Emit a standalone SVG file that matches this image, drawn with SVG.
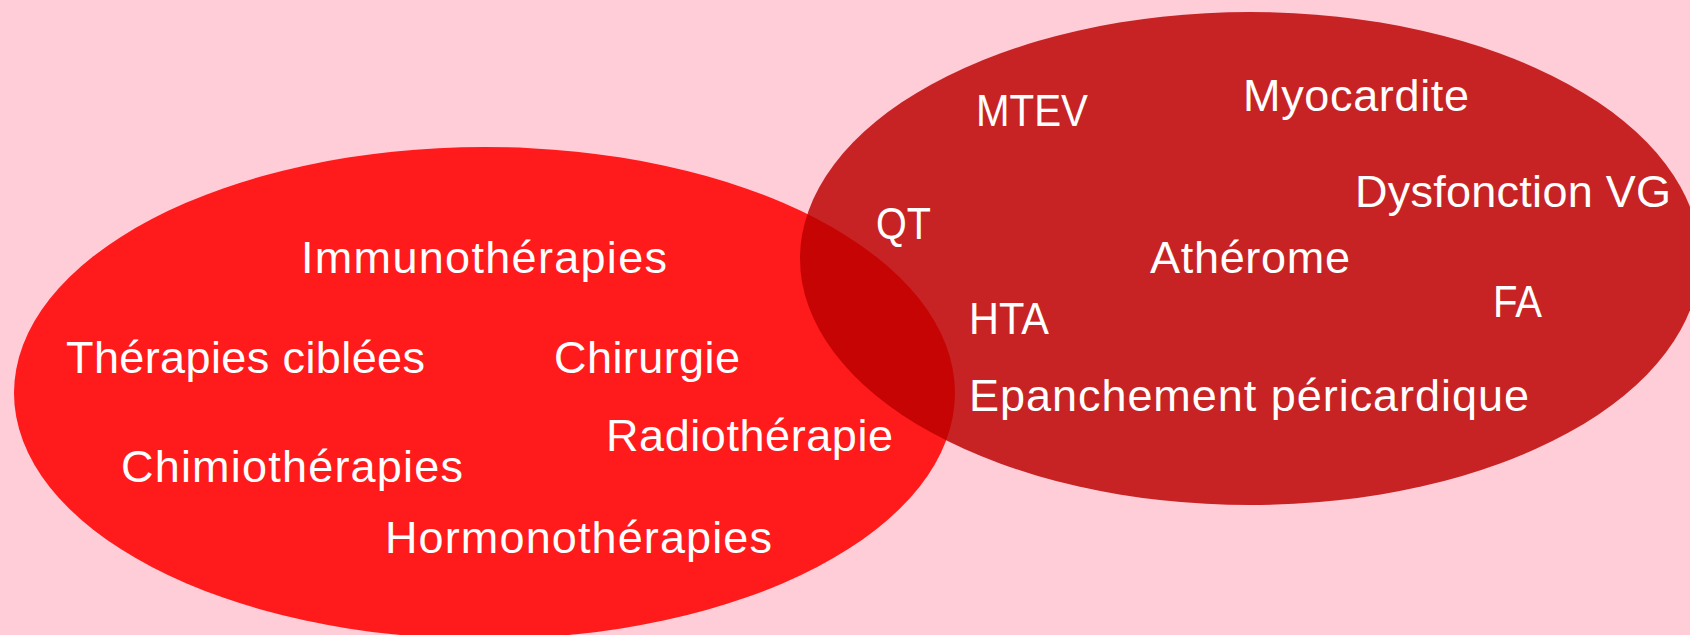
<svg xmlns="http://www.w3.org/2000/svg" width="1690" height="635" viewBox="0 0 1690 635">
<style>
.lbl{font-family:"Liberation Sans",Arial,sans-serif;font-size:45px;fill:#ffffff;}
</style>
<rect width="1690" height="635" fill="#FFCDD7"/>
<g id="set-treatments">
<ellipse cx="484.5" cy="393" rx="470.5" ry="246" fill="#FF1A1C"/>
</g>
<g id="set-cardio">
<ellipse cx="1250" cy="258.5" rx="450" ry="246.5" fill="#BC0000" fill-opacity="0.83"/>
</g>
<g id="labels-left">
<g id="n-immuno"><text class="lbl" x="301" y="273" textLength="366">Immunothérapies</text></g>
<g id="n-ciblees"><text class="lbl" x="66" y="373" textLength="359">Thérapies ciblées</text></g>
<g id="n-chirurgie"><text class="lbl" x="554" y="373" textLength="186">Chirurgie</text></g>
<g id="n-radio"><text class="lbl" x="606" y="451" textLength="287">Radiothérapie</text></g>
<g id="n-chimio"><text class="lbl" x="121" y="482" textLength="342">Chimiothérapies</text></g>
<g id="n-hormono"><text class="lbl" x="385" y="553" textLength="387">Hormonothérapies</text></g>
</g>
<g id="labels-right">
<g id="n-mtev"><text class="lbl" x="976" y="126" textLength="112" lengthAdjust="spacingAndGlyphs">MTEV</text></g>
<g id="n-myo"><text class="lbl" x="1243" y="111" textLength="226">Myocardite</text></g>
<g id="n-dysf"><text class="lbl" x="1355" y="207" textLength="316">Dysfonction VG</text></g>
<g id="n-qt"><text class="lbl" x="876" y="239" textLength="55" lengthAdjust="spacingAndGlyphs">QT</text></g>
<g id="n-athe"><text class="lbl" x="1150" y="273" textLength="200">Athérome</text></g>
<g id="n-fa"><text class="lbl" x="1493" y="317" textLength="49" lengthAdjust="spacingAndGlyphs">FA</text></g>
<g id="n-hta"><text class="lbl" x="969" y="334" textLength="80" lengthAdjust="spacingAndGlyphs">HTA</text></g>
<g id="n-epan"><text class="lbl" x="969" y="411" textLength="560">Epanchement péricardique</text></g>
</g>
</svg>
